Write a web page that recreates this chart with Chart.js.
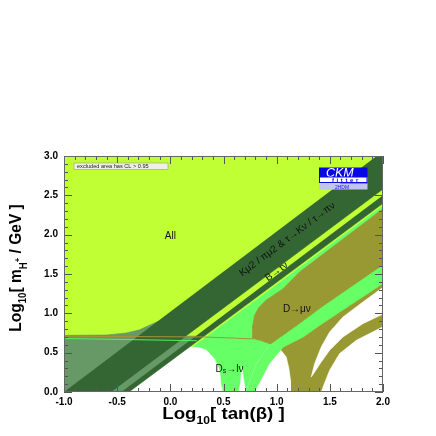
<!DOCTYPE html>
<html><head><meta charset="utf-8">
<script src="https://cdn.jsdelivr.net/npm/chart.js@4.4.1/dist/chart.umd.min.js"></script>
<style>html,body{margin:0;padding:0;background:#fff}canvas{display:block}</style>
</head><body>
<canvas id="c" width="436" height="436"></canvas>
<script>
// ---- axis ticks ----
const xTicks = [-1.0, -0.5, 0.0, 0.5, 1.0, 1.5, 2.0];
const yTicks = [0.0, 0.5, 1.0, 1.5, 2.0, 2.5, 3.0];

// ---- regions, vertices as [log10 tan(beta), log10 mH+] ----
const allRegion   = [[-1,0],[-0.36,0],[2,2.37],[2,3],[-1,3]];
const dsBase      = [[-0.36,0],[2,0],[2,2.37]];
const dmunuRegion = [[2,2.33],[1.215,1.525],[1.058,1.31],[0.902,1.17],[0.83,1.07],[0.79,0.97],[0.776,0.85],[0.776,0.68],[0.85,0.655],[0.964,0.60],[1.04,0.53],[1.09,0.445],[1.115,0.3],[1.13,0.15],[1.13,0],[2,0]];
const holeB       = [[0.71,0],[0.81,0.36],[0.93,0.59],[0.964,0.60],[1.04,0.53],[1.09,0.445],[1.115,0.3],[1.13,0.15],[1.13,0]];
const dsStrip     = [[0.71,0],[0.81,0.36],[0.93,0.59],[1.2,0.85],[1.43,1.08],[2,1.61],[2,1.38],[1.43,0.87],[1.25,0.70],[1.06,0.57],[0.93,0.36],[0.79,0]];
const hole1       = [[2.0,1.33],[1.811,1.144],[1.623,0.953],[1.498,0.762],[1.419,0.572],[1.357,0.361],[1.325,0.19],[1.357,0.254],[1.419,0.381],[1.498,0.53],[1.623,0.699],[1.811,0.869],[2.0,0.99]];
const hole2       = [[1.42,0],[1.435,0.06],[1.498,0.276],[1.592,0.488],[1.749,0.657],[2.0,0.83],[2,0]];
const holeA       = [[-0.39,0],[0.18,0.572],[0.27,0.565],[0.34,0.53],[0.416,0.42],[0.463,0.276],[0.479,0.06],[0.485,0]];
const holeWedge   = [[0.645,0],[0.66,0.12],[0.672,0.33],[0.69,0.15],[0.71,0]];
const grayRegion  = [[-1,0],[-1,0.72],[-0.6,0.725],[-0.415,0.75],[-0.29,0.79],[-0.196,0.85],[-0.12,0.895],[0.1,0.71],[0.27,0.71],[-0.43,0]];
const kmuBand     = [[-1,0],[-0.56,0],[2,2.58],[2,3.06]];
const thinBand    = [[-0.46,0],[-0.39,0],[2,2.40],[2,2.50]];
const dmunuLine   = [[-1,0.708],[0.3,0.70],[0.6,0.685],[0.776,0.675]];
const dsLine      = [[-1,0.68],[0.25,0.652]];

// ---- label anchors (data coords) ----
const labelAll   = [0.0, 1.985];
const labelKmu   = [1.10, 1.94];
const labelBtau  = [1.0, 1.53];
const labelDmu   = [1.19, 1.05];
const labelDs    = [0.557, 0.295];

const C = {
  all:'#bfff33', ds:'#66ff66', dmu:'#999933', white:'#ffffff', gray:'#669966', dark:'#336633'
};
const layers = [
  [allRegion, C.all], [dsBase, C.ds], [dmunuRegion, C.dmu], [holeB, C.white],
  [dsStrip, C.ds], [hole1, C.white], [hole2, C.white], [holeA, C.white],
  [holeWedge, C.white], [grayRegion, C.gray], [kmuBand, C.dark], [thinBand, C.dark]
];
const toPts = a => a.map(p => ({x:p[0], y:p[1]}));
const N = layers.length + 5;
const datasets = layers.map((L, i) => ({
  data: toPts(L[0]), backgroundColor: L[1], borderColor: L[1], borderWidth: 0.6,
  fill: 'shape', pointRadius: 0, tension: 0, order: N - i, clip: 0
}));
datasets.push({data: toPts(dmunuLine), borderColor:'#a8923a', borderWidth:1, fill:false, pointRadius:0, order:2, clip:0});
datasets.push({data: toPts(dsLine), borderColor:'#55f055', borderWidth:1, fill:false, pointRadius:0, order:1, clip:0});

const FONT = '"Liberation Sans", Arial, Helvetica, sans-serif';

function drawRich(ctx, segs) {
  let w = 0;
  segs.forEach(s => { ctx.font = s.f; s.w = ctx.measureText(s.t).width; w += s.w; });
  let x = -w / 2;
  ctx.textAlign = 'left';
  segs.forEach(s => { ctx.font = s.f; ctx.fillText(s.t, x, s.dy || 0); x += s.w; });
}

const overlay = {
  id: 'overlay',
  afterDraw(chart) {
    const ctx = chart.ctx, a = chart.chartArea, xs = chart.scales.x, ys = chart.scales.y;
    const P = (d) => [xs.getPixelForValue(d[0]), ys.getPixelForValue(d[1])];
    ctx.save();
    // tick marks inside the frame
    ctx.strokeStyle = '#555'; ctx.lineWidth = 1;
    ctx.beginPath();
    for (let i = 0; i <= 30; i++) {
      const px = Math.round(xs.getPixelForValue(-1 + i * 0.1)) + 0.5;
      const len = i % 5 === 0 ? 8 : 4;
      ctx.moveTo(px, a.bottom); ctx.lineTo(px, a.bottom - len);
      ctx.moveTo(px, a.top); ctx.lineTo(px, a.top + len);
      const py = Math.round(ys.getPixelForValue(i * 0.1)) + 0.5;
      ctx.moveTo(a.left, py); ctx.lineTo(a.left + len, py);
      ctx.moveTo(a.right, py); ctx.lineTo(a.right - len, py);
    }
    ctx.stroke();
    ctx.strokeStyle = '#666';
    ctx.strokeRect(a.left + 0.5, a.top + 0.5, a.right - a.left - 1, a.bottom - a.top - 1);

    // in-plot labels
    ctx.fillStyle = '#111'; ctx.textBaseline = 'middle'; ctx.textAlign = 'center';
    ctx.font = '10px ' + FONT;
    let p = P(labelAll); ctx.fillText('All', p[0], p[1]);
    const p0 = P([0, 0]), p1 = P([1, 1.01]);
    const ang = Math.atan2(p1[1] - p0[1], p1[0] - p0[0]);
    p = P(labelKmu);
    ctx.save(); ctx.translate(p[0], p[1]); ctx.rotate(ang);
    ctx.fillText('Kμ2 / πμ2 & τ→Kν / τ→πν', 0, 0); ctx.restore();
    p = P(labelBtau);
    ctx.save(); ctx.translate(p[0], p[1]); ctx.rotate(ang);
    ctx.fillText('B→τν', 0, 0); ctx.restore();
    p = P(labelDmu); ctx.fillText('D→μν', p[0], p[1]);
    p = P(labelDs);
    ctx.save(); ctx.translate(p[0], p[1]);
    drawRich(ctx, [{t:'D', f:'10px ' + FONT}, {t:'s', f:'7px ' + FONT, dy:2}, {t:'→lν', f:'10px ' + FONT}]);
    ctx.restore();

    // info box
    ctx.fillStyle = '#eeeeee'; ctx.strokeStyle = '#999'; ctx.lineWidth = 0.6;
    ctx.fillRect(a.left + 10, a.top + 7, 94, 6.5);
    ctx.strokeRect(a.left + 10, a.top + 7, 94, 6.5);
    ctx.fillStyle = '#222'; ctx.textAlign = 'left'; ctx.font = '5.6px ' + FONT;
    ctx.fillText('excluded area has CL > 0.95', a.left + 13, a.top + 10.4);

    // CKMfitter logo
    const x0 = a.right - 64, y0 = a.top + 11.5, lw = 48.5;
    ctx.fillStyle = '#0808e6'; ctx.fillRect(x0, y0, lw, 9.5);
    ctx.fillStyle = '#fff'; ctx.font = 'italic 12.5px ' + FONT; ctx.textBaseline = 'alphabetic';
    ctx.fillText('CKM', x0 + 7, y0 + 9.6);
    ctx.fillStyle = '#fff'; ctx.fillRect(x0, y0 + 9.5, lw, 5.5);
    ctx.strokeStyle = '#0808e6'; ctx.lineWidth = 1; ctx.strokeRect(x0 + 0.5, y0 + 9.5, lw - 1, 5.5);
    ctx.fillStyle = '#0808e6'; ctx.font = 'bold 6px ' + FONT;
    try { ctx.letterSpacing = '2.6px'; } catch (e) {}
    ctx.fillText('fitter', x0 + 13, y0 + 14.6);
    try { ctx.letterSpacing = '0px'; } catch (e) {}
    ctx.fillStyle = '#c4c4f0'; ctx.fillRect(x0, y0 + 16, lw, 6);
    ctx.fillStyle = '#2020d0'; ctx.font = '5px ' + FONT; ctx.textAlign = 'center';
    ctx.fillText('2HDM', x0 + 23, y0 + 21);

    // axis titles
    ctx.fillStyle = '#000';
    const big = 'bold 17px ' + FONT, sub = 'bold 11px ' + FONT;
    ctx.save(); ctx.translate((a.left + a.right) / 2, 419); ctx.scale(1.1, 1);
    drawRich(ctx, [{t:'Log', f:big}, {t:'10', f:sub, dy:5}, {t:'[ tan(β) ]', f:big}]);
    ctx.restore();
    const bigY = 'bold 16px ' + FONT, subY = 'bold 10px ' + FONT, sub2Y = 'bold 8px ' + FONT;
    ctx.save(); ctx.translate(20.5, 268); ctx.rotate(-Math.PI / 2); ctx.scale(0.97, 1);
    drawRich(ctx, [{t:'Log', f:bigY}, {t:'10', f:subY, dy:5}, {t:'[ m', f:bigY}, {t:'H', f:subY, dy:6}, {t:'+', f:sub2Y, dy:-1}, {t:' / GeV ]', f:bigY}]);
    ctx.restore();
    ctx.restore();
  }
};

const tickFont = {family: FONT, weight: 'bold', size: 10};
new Chart(document.getElementById('c'), {
  type: 'line',
  data: { datasets },
  options: {
    responsive: false, animation: false, devicePixelRatio: 1,
    layout: { padding: { left: 0, top: 156, right: 53, bottom: 0 } },
    plugins: { legend: { display: false }, tooltip: { enabled: false } },
    elements: { line: { tension: 0 } },
    scales: {
      x: {
        type: 'linear', min: -1, max: 2,
        afterBuildTicks: s => { s.ticks = xTicks.map(v => ({ value: v })); },
        afterFit: s => { s.height = 44; },
        grid: { display: false, drawTicks: false }, border: { display: false },
        ticks: { callback: v => Number(v).toFixed(1), font: tickFont, color: '#000', padding: 4, maxRotation: 0, autoSkip: false }
      },
      y: {
        type: 'linear', min: 0, max: 3,
        afterBuildTicks: s => { s.ticks = yTicks.map(v => ({ value: v })); },
        afterFit: s => { s.width = 64; },
        grid: { display: false, drawTicks: false }, border: { display: false },
        ticks: { callback: v => Number(v).toFixed(1), font: tickFont, color: '#000', padding: 6, autoSkip: false }
      }
    }
  },
  plugins: [overlay]
});
</script>
</body></html>
